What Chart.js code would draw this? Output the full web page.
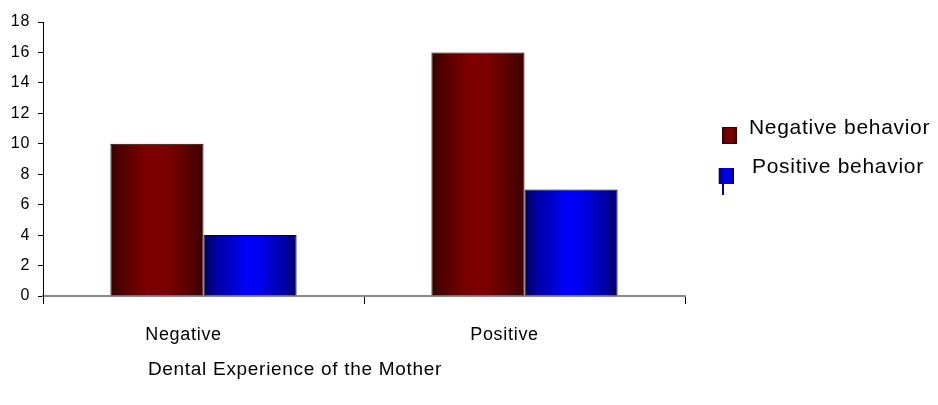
<!DOCTYPE html>
<html>
<head>
<meta charset="utf-8">
<script src="https://cdn.jsdelivr.net/npm/chart.js@4/dist/chart.umd.min.js"></script>
<style>
  html, body { margin: 0; padding: 0; background: #fff; }
  #wrap { width: 938px; height: 405px; position: relative; }
</style>
</head>
<body>
<div id="wrap"><canvas id="c" width="938" height="405"></canvas></div>
<script>
// Mother's dental experience vs. child behaviour counts
const categories = ['Negative', 'Positive'];
const seriesNames = ['Negative behavior', 'Positive behavior'];
const negativeBehavior = [10, 16];
const positiveBehavior = [4, 7];
const yTicks = [0, 2, 4, 6, 8, 10, 12, 14, 16, 18];
const axisTitle = 'Dental Experience of the Mother';

const FONT = "'Liberation Sans', Arial, sans-serif";
const SPACING = '0.7px';

// horizontal "cylinder" shading: dark edges, bright middle
const shades = [
  [[0, '#380000'], [0.12, '#520000'], [0.4, '#7e0000'], [0.6, '#7c0000'], [0.88, '#520000'], [1, '#380000']],
  [[0, '#00005e'], [0.15, '#0000a8'], [0.45, '#0000f8'], [0.6, '#0000f0'], [0.88, '#0000a0'], [1, '#000060']]
];

function makeGradient(ctx, x0, x1, stops) {
  const g = ctx.createLinearGradient(x0, 0, x1, 0);
  stops.forEach(s => g.addColorStop(s[0], s[1]));
  return g;
}

// slightly wider text throughout
const textSpacing = {
  id: 'textSpacing',
  beforeInit(chart) { chart.ctx.letterSpacing = SPACING; },
  beforeDraw(chart) { chart.ctx.letterSpacing = SPACING; }
};

const shadePlugin = {
  id: 'shade',
  beforeDatasetsDraw(chart) {
    chart.data.datasets.forEach((ds, di) => {
      const meta = chart.getDatasetMeta(di);
      meta.data.forEach(el => {
        const l = el.x - el.width / 2, r = el.x + el.width / 2;
        el.options = Object.assign({}, el.options, {
          backgroundColor: makeGradient(chart.ctx, l, r, shades[di])
        });
      });
    });
  }
};

const sideLegend = {
  id: 'sideLegend',
  afterDraw(chart) {
    const ctx = chart.ctx;
    ctx.save();
    ctx.letterSpacing = SPACING;
    // series 1 swatch
    ctx.fillStyle = makeGradient(ctx, 722, 737, shades[0]);
    ctx.fillRect(722, 127, 15, 17);
    ctx.strokeStyle = '#3a0000';
    ctx.lineWidth = 1;
    ctx.strokeRect(722.5, 127.5, 14, 16);
    // series 2 swatch with its little stem
    ctx.fillStyle = makeGradient(ctx, 718, 734, shades[1]);
    ctx.fillRect(718, 168, 16, 16);
    ctx.strokeStyle = '#b0b0c8';
    ctx.beginPath(); ctx.moveTo(718.5, 168); ctx.lineTo(718.5, 184); ctx.stroke();
    ctx.strokeStyle = '#000080';
    ctx.lineWidth = 2;
    ctx.beginPath(); ctx.moveTo(723, 184); ctx.lineTo(723, 195); ctx.stroke();

    ctx.fillStyle = '#000';
    ctx.font = '21px ' + FONT;
    ctx.textAlign = 'left';
    ctx.textBaseline = 'middle';
    ctx.fillText(chart.data.datasets[0].label, 749, 128);
    ctx.fillText(chart.data.datasets[1].label, 752, 167);

    // x axis caption
    ctx.font = '19px ' + FONT;
    ctx.textAlign = 'center';
    ctx.fillText(axisTitle, 295, 370);
    ctx.restore();
  }
};

new Chart(document.getElementById('c'), {
  type: 'bar',
  data: {
    labels: categories,
    datasets: [
      { label: seriesNames[0], data: negativeBehavior, backgroundColor: '#800000', borderColor: '#1a0000', borderWidth: 1 },
      { label: seriesNames[1], data: positiveBehavior, backgroundColor: '#0000ff', borderColor: '#000030', borderWidth: 1 }
    ]
  },
  options: {
    responsive: false,
    animation: false,
    events: [],
    layout: { padding: { left: 0, top: 22, right: 253, bottom: 0 } },
    datasets: { bar: { categoryPercentage: 0.58, barPercentage: 1 } },
    plugins: { legend: { display: false }, tooltip: { enabled: false }, title: { display: false } },
    scales: {
      x: {
        offset: true,
        grid: { display: true, drawOnChartArea: false, drawTicks: true, tickLength: 8, color: '#000', offset: true },
        border: { display: true, color: '#8a8a8a', width: 2 },
        ticks: { color: '#000', font: { family: FONT, size: 18 }, padding: 20, labelOffset: -20, maxRotation: 0 },
        afterFit(scale) { scale.height = 109; }
      },
      y: {
        min: 0,
        max: 18,
        afterBuildTicks(scale) { scale.ticks = yTicks.map(v => ({ value: v })); },
        grid: { display: true, drawOnChartArea: false, drawTicks: true, tickLength: 5, color: '#000' },
        border: { display: true, color: '#000', width: 1 },
        ticks: { color: '#000', font: { family: FONT, size: 16 }, padding: 8 },
        afterFit(scale) { scale.width = 43; }
      }
    }
  },
  plugins: [textSpacing, shadePlugin, sideLegend]
});
</script>
</body>
</html>
